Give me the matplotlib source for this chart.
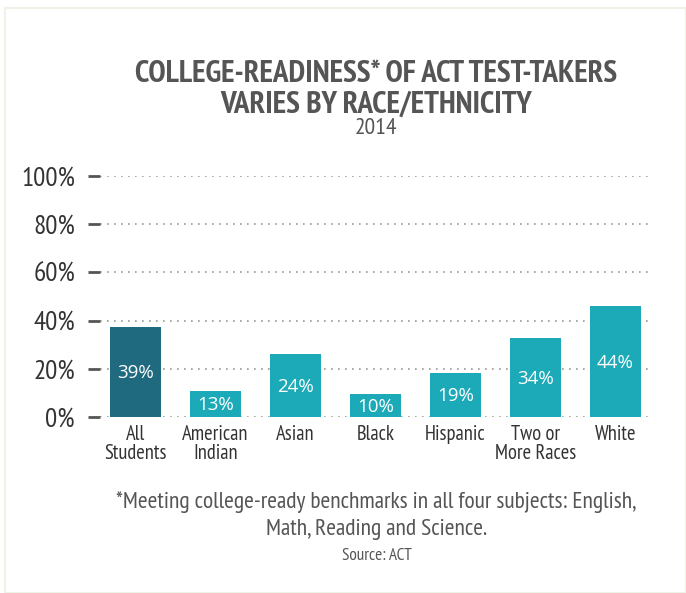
import matplotlib
matplotlib.use("Agg")
import matplotlib.pyplot as plt
from matplotlib.patches import Rectangle

categories = ["All\nStudents", "American\nIndian", "Asian", "Black", "Hispanic", "Two or\nMore Races", "White"]
# bar heights as drawn in the reference (percent)
bar_heights = [37.3, 10.8, 26.1, 9.5, 18.3, 32.8, 46.0]
# value labels printed on the bars
value_labels = ["39%", "13%", "24%", "10%", "19%", "34%", "44%"]
y_ticks = [0, 20, 40, 60, 80, 100]
y_tick_labels = ["0%", "20%", "40%", "60%", "80%", "100%"]

title = "COLLEGE-READINESS* OF ACT TEST-TAKERS\nVARIES BY RACE/ETHNICITY"
subtitle = "2014"
footnote = "*Meeting college-ready benchmarks in all four subjects: English,\nMath, Reading and Science."
source = "Source: ACT"

dark = "#1F6A7F"
light = "#1DAAB8"
text_gray = "#555555"
narrow = ["PT Sans Narrow", "DejaVu Sans"]

W, H = 686, 593
fig = plt.figure(figsize=(W / 100, H / 100), dpi=100)
fig.patch.set_facecolor("white")

# light frame
fig.patches.append(Rectangle((5 / W, 0), (W - 5) / W, (H - 8) / H, transform=fig.transFigure,
                             fill=False, edgecolor="#EEF3E8", linewidth=1.5))

ax = fig.add_axes([100 / W, 1 - 417 / H, (653 - 100) / W, (417 - 176) / H])
x = list(range(len(categories)))
colors = [dark] + [light] * (len(categories) - 1)
ax.bar(x, bar_heights, width=0.64, color=colors, zorder=3)

for xi, h, lab in zip(x, bar_heights, value_labels):
    ax.text(xi, h / 2 - 0.6, lab, ha="center", va="center", color="white",
            fontsize=13.5, fontweight="medium", family=["Open Sans", "DejaVu Sans"], zorder=4)

ax.set_xlim(-0.444, 6.47)
ax.set_ylim(0, 100)
ax.set_yticks(y_ticks)
ax.set_yticklabels(y_tick_labels, family=narrow, fontsize=19.5, color="#333333")
ax.set_xticks(x)
ax.set_xticklabels(categories, family=narrow, fontsize=14.8, color="#333333", linespacing=1.0)
ax.tick_params(axis="x", length=0, pad=6)
ax.tick_params(axis="y", length=9, width=2, color="#555555", pad=9)
for s in ax.spines.values():
    s.set_visible(False)
ax.yaxis.grid(True, linestyle=(0, (1, 3.2)), color="#999999", linewidth=1.2, zorder=0)
ax.set_axisbelow(True)

cx = (100 + 653) / 2 / W
fig.text(cx, 1 - 60 / H, title, ha="center", va="top", fontsize=22.5, fontweight="bold",
         family=narrow, color=text_gray, linespacing=1.12)
fig.text(cx, 1 - 118 / H, subtitle, ha="center", va="top", fontsize=17, family=narrow, color=text_gray)
fig.text(cx, 1 - 491 / H, footnote, ha="center", va="top", fontsize=16.9, family=narrow,
         color=text_gray, linespacing=1.38)
fig.text(cx, 1 - 548 / H, source, ha="center", va="top", fontsize=12.4, family=narrow, color=text_gray)

fig.savefig("out.png", dpi=100, facecolor="white")
